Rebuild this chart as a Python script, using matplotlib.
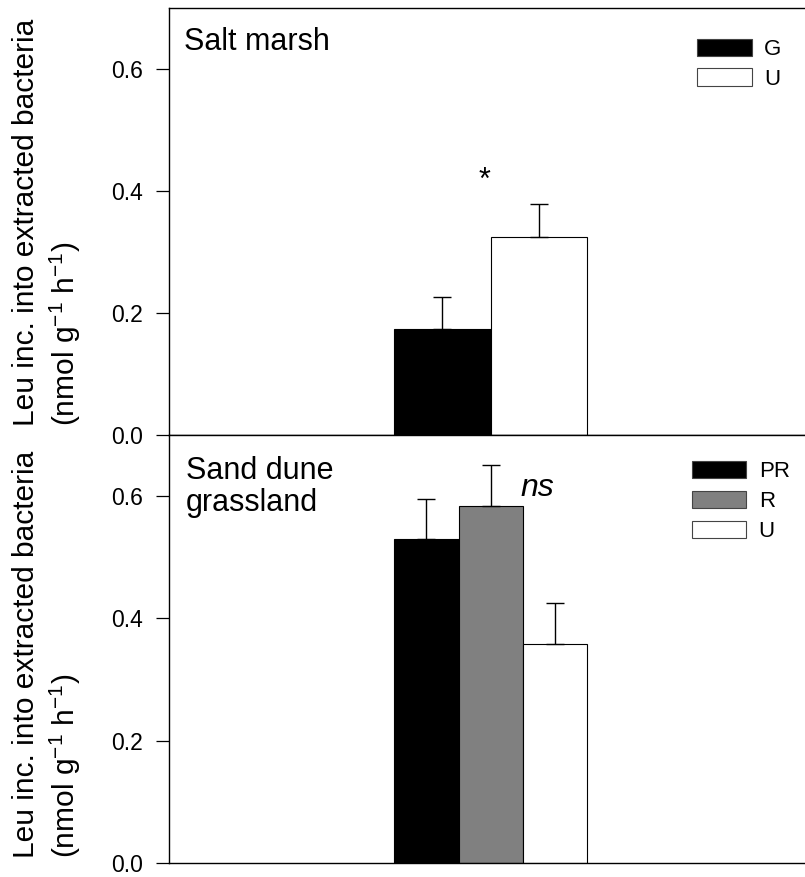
import matplotlib
matplotlib.use("Agg")
import matplotlib.pyplot as plt
import numpy as np

plt.rcParams['font.family'] = ['Liberation Sans', 'DejaVu Sans']
plt.rcParams['mathtext.default'] = 'regular'

# ---- data ----
salt_groups = ["G", "U"]
salt_values = [0.173, 0.325]
salt_errors = [0.054, 0.054]
salt_colors = ["#000000", "#ffffff"]

dune_groups = ["PR", "R", "U"]
dune_values = [0.530, 0.584, 0.358]
dune_errors = [0.066, 0.067, 0.067]
dune_colors = ["#000000", "#808080", "#ffffff"]

yticks = [0.0, 0.2, 0.4, 0.6]
ytick_labels = ["0.0", "0.2", "0.4", "0.6"]
ylabel = "Leu inc. into extracted bacteria\n(nmol g$^{-1}$ h$^{-1}$)"

W, H = 805, 877
fig = plt.figure(figsize=(W / 100, H / 100), dpi=100)

ax_left = 168.5 / W
ax_w = (813 - 168.5) / W
ax1 = fig.add_axes([ax_left, 1 - 435 / H, ax_w, (435 - 8) / H])
ax2 = fig.add_axes([ax_left, 1 - 863 / H, ax_w, (863 - 435) / H])


def draw_panel(ax, groups, values, errors, colors, total_width=0.6):
    n = len(groups)
    w = total_width / n
    xs = -total_width / 2 + w / 2 + np.arange(n) * w
    handles = ax.bar(xs, values, width=w, color=colors, edgecolor="black",
                     linewidth=0.8, zorder=2, label=None)
    ax.errorbar(xs, values, yerr=[np.zeros(n), errors], fmt="none",
                ecolor="black", elinewidth=1.0, capsize=6.3, capthick=1.0,
                zorder=3)
    ax.set_xlim(-1, 1)
    ax.set_ylim(0, 0.7)
    ax.set_yticks(yticks)
    ax.set_yticklabels(ytick_labels)
    ax.set_xticks([])
    ax.tick_params(axis="y", direction="out", length=9.4, width=0.9,
                   labelsize=16.5, pad=9)
    for s in ax.spines.values():
        s.set_linewidth(1.0)
    return handles


bars1 = draw_panel(ax1, salt_groups, salt_values, salt_errors, salt_colors)
bars2 = draw_panel(ax2, dune_groups, dune_values, dune_errors, dune_colors)

leg_kw = dict(frameon=False, fontsize=16, handlelength=2.46, handleheight=0.81,
              handletextpad=0.55, labelspacing=0.39, borderpad=0,
              borderaxespad=0, loc="upper left")
leg1 = ax1.legend(bars1.patches, salt_groups,
                  bbox_to_anchor=(696.9 / W, 1 - 38.5 / H),
                  bbox_transform=fig.transFigure, **leg_kw)
leg2 = ax2.legend(bars2.patches, dune_groups,
                  bbox_to_anchor=(691.8 / W, 1 - 461 / H),
                  bbox_transform=fig.transFigure, **leg_kw)
for leg in (leg1, leg2):
    for p in leg.get_patches():
        p.set_edgecolor("#444444")

fig.text(184 / W, 1 - 27 / H, "Salt marsh", fontsize=22, ha="left", va="top")
fig.text(186 / W, 1 - 456 / H, "Sand dune\ngrassland", fontsize=22,
         ha="left", va="top", linespacing=1.1)

ax1.text(-0.02, 0.403, "*", fontsize=22, ha="center", va="baseline")
ax2.text(0.146, 0.601, "ns", fontsize=23, style="italic", ha="center",
         va="baseline")

for yc in (222, 654):
    fig.text(12 / W, 1 - yc / H, ylabel, rotation=90, fontsize=21.5,
             ha="left", va="center", multialignment="left", linespacing=1.3)

fig.savefig("out.png", dpi=100)
